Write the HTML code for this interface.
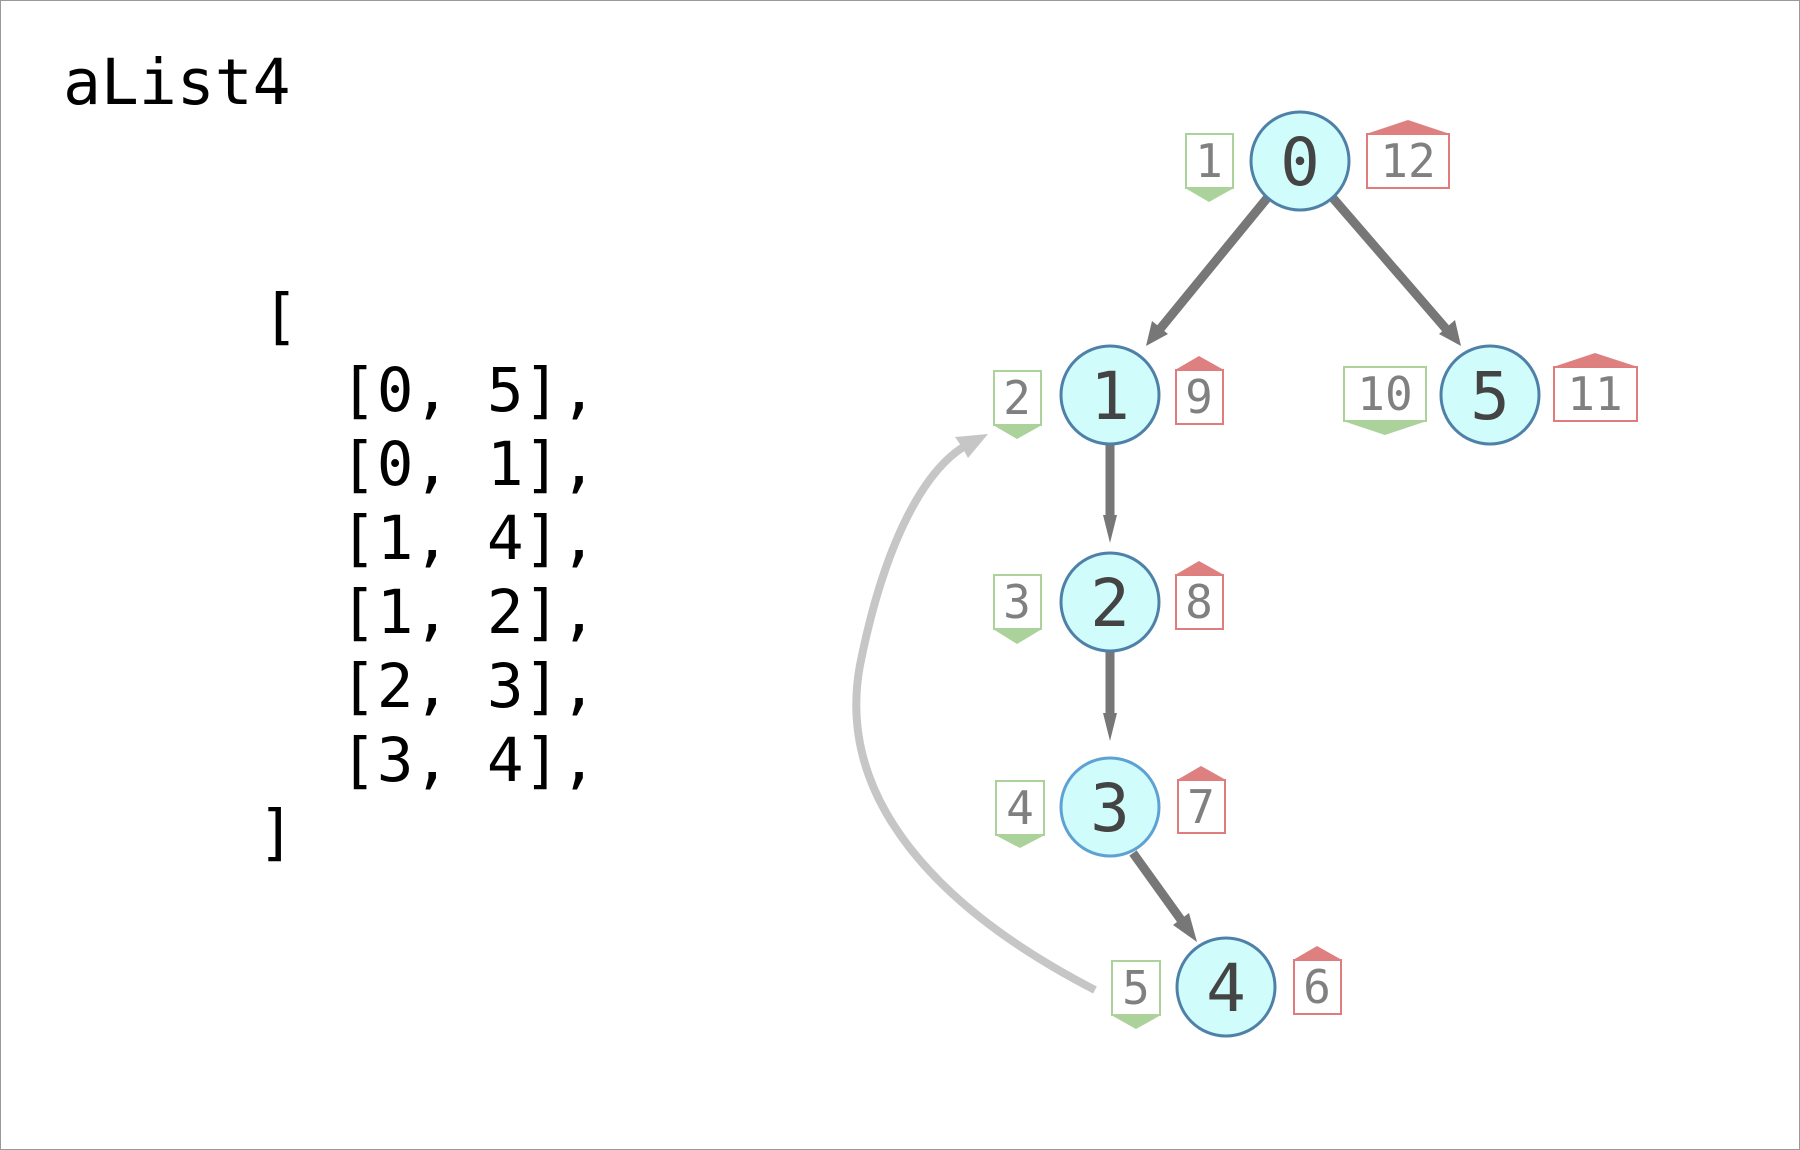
<!DOCTYPE html>
<html><head><meta charset="utf-8"><style>
html,body{margin:0;padding:0;background:#fff}
svg{display:block}
.m{font-family:"DejaVu Sans Mono","Liberation Mono",monospace}
</style></head><body>
<svg width="1800" height="1150" viewBox="0 0 1800 1150" xmlns="http://www.w3.org/2000/svg">
<rect x="0.5" y="0.5" width="1799" height="1149" fill="#fff" stroke="#999" stroke-width="1"/>
<text class="m" x="63" y="104" font-size="63" fill="#000">aList4</text>
<g class="m" font-size="61" fill="#000">
<text x="262" y="337">[</text>
<text x="340" y="411">[0, 5],</text>
<text x="340" y="485">[0, 1],</text>
<text x="340" y="559">[1, 4],</text>
<text x="340" y="633">[1, 2],</text>
<text x="340" y="707">[2, 3],</text>
<text x="340" y="781">[3, 4],</text>
<text x="258" y="853">]</text>
</g>
<!-- back edge -->
<path d="M1095 990 C940 910 835 800 860 665 C885 540 925 470 965 446" fill="none" stroke="#c6c6c6" stroke-width="8"/>
<polygon points="988,434 955,437 962,447 968,458" fill="#c6c6c6"/>
<!-- edges -->
<g stroke="#777" stroke-width="9" fill="none">
<line x1="1268" y1="197" x2="1160" y2="329"/>
<line x1="1332" y1="197" x2="1447" y2="330"/>
<line x1="1110" y1="445" x2="1110" y2="520"/>
<line x1="1110" y1="651" x2="1110" y2="718"/>
<line x1="1133" y1="853" x2="1184" y2="924"/>
</g>
<g fill="#777">
<polygon points="1146,346 1152,321 1168,334"/>
<polygon points="1461,346 1439,334 1455,320"/>
<polygon points="1110,543 1103,515 1117,515"/>
<polygon points="1110,741 1103,713 1117,713"/>
<polygon points="1197,942 1173,925 1189,913"/>
</g>
<!-- nodes -->
<g stroke="#4f81a8" stroke-width="3" fill="#d0fdfb">
<circle cx="1300" cy="161" r="49"/>
<circle cx="1110" cy="395" r="49"/>
<circle cx="1490" cy="395" r="49"/>
<circle cx="1110" cy="602" r="49"/>
<circle cx="1110" cy="807" r="49" stroke="#5ea2d4"/>
<circle cx="1226" cy="987" r="49"/>
</g>
<g class="m" font-size="66" fill="#444" text-anchor="middle">
<text x="1300" y="185">0</text>
<text x="1110" y="419">1</text>
<text x="1490" y="419">5</text>
<text x="1110" y="626">2</text>
<text x="1110" y="831">3</text>
<text x="1226" y="1011">4</text>
</g>
<!-- green labels -->
<g stroke="#acd29b" stroke-width="2" fill="#fff">
<rect x="1186" y="134" width="47" height="54"/>
<rect x="994" y="371" width="47" height="54"/>
<rect x="1344" y="367" width="82" height="54"/>
<rect x="994" y="575" width="47" height="54"/>
<rect x="996" y="781" width="48" height="54"/>
<rect x="1112" y="961" width="48" height="54"/>
</g>
<g fill="#acd29b">
<polygon points="1185,188 1234,188 1209,202"/>
<polygon points="993,425 1042,425 1017,439"/>
<polygon points="1343,421 1427,421 1385,435"/>
<polygon points="993,629 1042,629 1017,644"/>
<polygon points="995,835 1045,835 1020,848"/>
<polygon points="1111,1015 1161,1015 1136,1029"/>
</g>
<!-- red labels -->
<g stroke="#e07c7c" stroke-width="2" fill="#fff">
<rect x="1367" y="134" width="82" height="54"/>
<rect x="1176" y="370" width="47" height="54"/>
<rect x="1554" y="367" width="83" height="54"/>
<rect x="1176" y="575" width="47" height="54"/>
<rect x="1178" y="780" width="47" height="53"/>
<rect x="1294" y="960" width="47" height="54"/>
</g>
<g fill="#de8080">
<polygon points="1366,134 1450,134 1408,120"/>
<polygon points="1175,370 1224,370 1199,356"/>
<polygon points="1553,367 1638,367 1595,353"/>
<polygon points="1175,575 1224,575 1199,561"/>
<polygon points="1177,780 1226,780 1201,766"/>
<polygon points="1293,960 1342,960 1317,946"/>
</g>
<g class="m" font-size="46" fill="#808080" text-anchor="middle">
<text x="1209" y="177">1</text>
<text x="1408" y="177">12</text>
<text x="1017" y="414">2</text>
<text x="1199" y="413">9</text>
<text x="1385" y="410">10</text>
<text x="1595" y="410">11</text>
<text x="1017" y="618">3</text>
<text x="1199" y="618">8</text>
<text x="1020" y="824">4</text>
<text x="1201" y="823">7</text>
<text x="1136" y="1004">5</text>
<text x="1317" y="1003">6</text>
</g>
</svg>
</body></html>
